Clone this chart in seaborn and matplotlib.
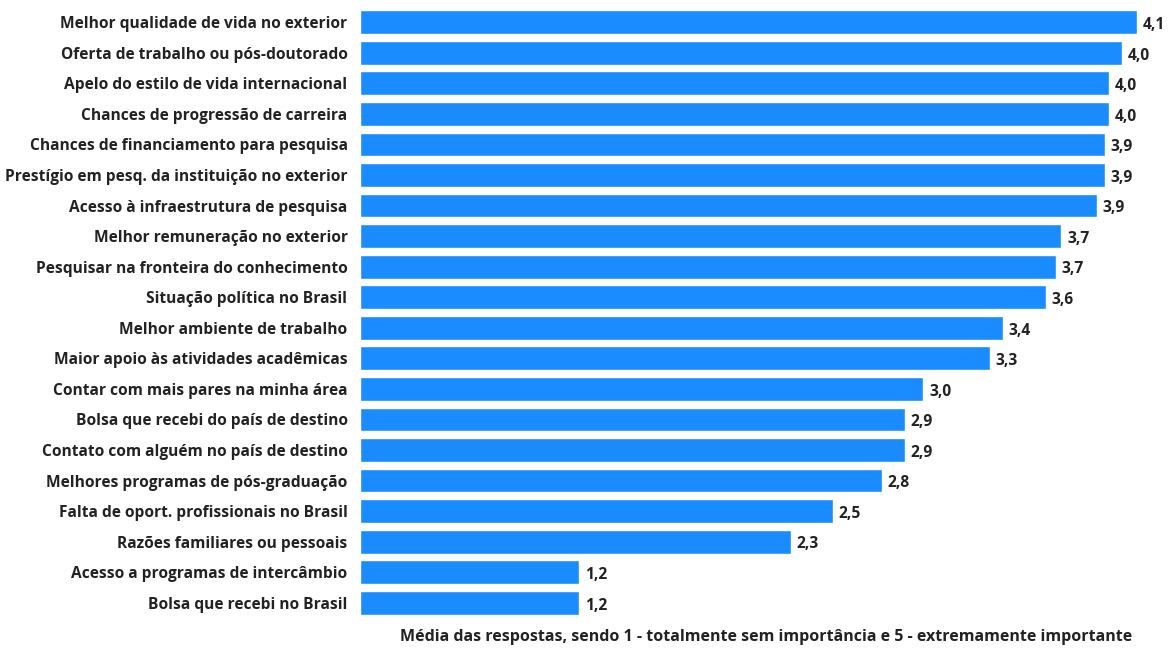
"""Reasons for working abroad: mean importance per motive (horizontal bars)."""

import matplotlib

matplotlib.use("Agg")
import matplotlib.pyplot as plt
import pandas as pd
import seaborn as sns

# Data
MOTIVES = [
    "Melhor qualidade de vida no exterior",
    "Oferta de trabalho ou pós-doutorado",
    "Apelo do estilo de vida internacional",
    "Chances de progressão de carreira",
    "Chances de financiamento para pesquisa",
    "Prestígio em pesq. da instituição no exterior",
    "Acesso à infraestrutura de pesquisa",
    "Melhor remuneração no exterior",
    "Pesquisar na fronteira do conhecimento",
    "Situação política no Brasil",
    "Melhor ambiente de trabalho",
    "Maior apoio às atividades acadêmicas",
    "Contar com mais pares na minha área",
    "Bolsa que recebi do país de destino",
    "Contato com alguém no país de destino",
    "Melhores programas de pós-graduação",
    "Falta de oport. profissionais no Brasil",
    "Razões familiares ou pessoais",
    "Acesso a programas de intercâmbio",
    "Bolsa que recebi no Brasil",
]
MEANS = [4.11, 4.03, 3.96, 3.96, 3.94, 3.94, 3.90, 3.71, 3.68, 3.63,
         3.40, 3.33, 2.98, 2.88, 2.88, 2.76, 2.50, 2.28, 1.16, 1.16]
XLABEL = "Média das respostas, sendo 1 - totalmente sem importância e 5 - extremamente importante"

BAR_COLOR = "#1a8cff"
TEXT_COLOR = "#222222"
FONT_SIZE = 11.2

sns.set_style("white")
plt.rcParams["font.family"] = ["Open Sans", "DejaVu Sans"]

df = pd.DataFrame({"motivo": MOTIVES, "media": MEANS})

fig = plt.figure(figsize=(11.73, 6.48), dpi=100)
ax = fig.add_axes([360 / 1173, 30 / 648, 813 / 1173, 611 / 648])

sns.barplot(
    data=df,
    x="media",
    y="motivo",
    orient="h",
    color=BAR_COLOR,
    saturation=1,
    width=0.78,
    ax=ax,
)

ax.set_xlim(0, 4.30)
ax.set_ylim(len(MOTIVES) - 0.5, -0.5)
sns.despine(ax=ax, left=True, bottom=True)
ax.set_xticks([])
ax.tick_params(axis="y", length=0, pad=9)
for lbl in ax.get_yticklabels():
    lbl.set_fontsize(FONT_SIZE)
    lbl.set_fontweight("bold")
    lbl.set_color(TEXT_COLOR)
ax.set_ylabel("")
ax.set_xlabel(XLABEL, fontsize=FONT_SIZE + 0.3, fontweight="bold", color=TEXT_COLOR, labelpad=8)

# Value labels with comma decimal separator
for i, v in enumerate(MEANS):
    ax.annotate(
        f"{v:.1f}".replace(".", ","),
        xy=(v, i),
        xytext=(4, -2),
        textcoords="offset points",
        va="center",
        ha="left",
        fontsize=FONT_SIZE,
        fontweight="bold",
        color=TEXT_COLOR,
        annotation_clip=False,
    )

fig.savefig("out.png", dpi=100)
